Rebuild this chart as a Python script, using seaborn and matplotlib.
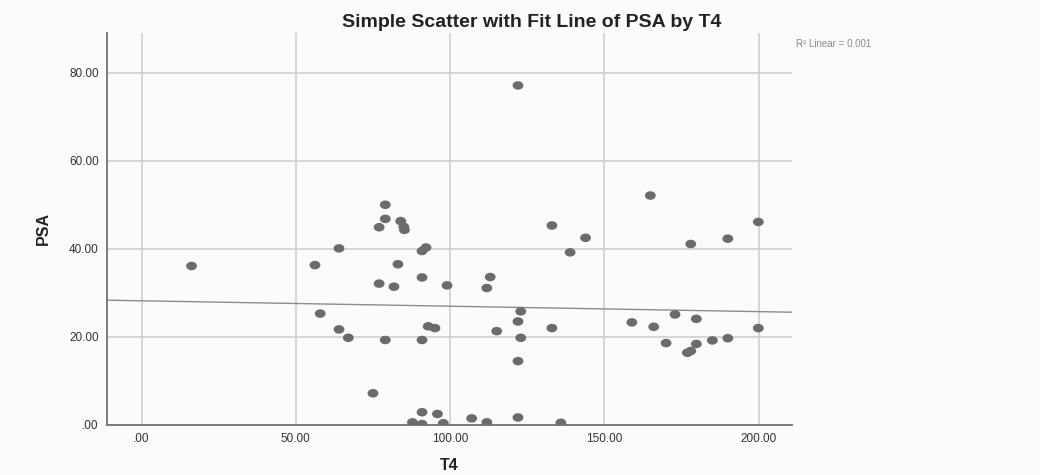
import numpy as np
import pandas as pd
import matplotlib
matplotlib.use("Agg")
import matplotlib.pyplot as plt
from matplotlib.markers import MarkerStyle
from matplotlib.transforms import Affine2D
import seaborn as sns

# Data
t4 = [16.2, 56.2, 57.9, 64.0, 64.0, 67.0, 75.0, 77.0, 77.0, 79.0,
      79.0, 79.0, 81.8, 83.1, 84.0, 85.0, 85.2, 87.8, 90.9, 92.2,
      90.9, 90.9, 90.9, 90.9, 92.9, 95.1, 95.9, 97.8, 99.0, 107.0,
      111.9, 113.0, 111.9, 115.1, 122.0, 122.9, 122.0, 122.9, 122.0, 122.0,
      133.0, 133.0, 135.9, 138.9, 143.9, 158.9, 164.9, 166.0, 170.0, 172.9,
      176.9, 178.0, 178.0, 179.8, 179.8, 185.0, 190.0, 190.0, 199.9, 199.9]
psa = [36.1, 36.3, 25.3, 40.1, 21.7, 19.8, 7.2, 44.9, 32.1, 50.0,
       46.8, 19.3, 31.4, 36.5, 46.3, 45.0, 44.3, 0.6, 39.5, 40.3,
       33.5, 19.3, 2.9, 0.2, 22.4, 22.0, 2.5, 0.4, 31.7, 1.5,
       31.1, 33.6, 0.6, 21.3, 77.1, 25.8, 23.5, 19.8, 14.5, 1.7,
       45.3, 22.0, 0.5, 39.2, 42.5, 23.3, 52.1, 22.3, 18.6, 25.1,
       16.4, 16.8, 41.1, 24.1, 18.4, 19.2, 42.3, 19.7, 46.1, 22.0]
x_ticks = [0, 50, 100, 150, 200]
x_labels = [".00", "50.00", "100.00", "150.00", "200.00"]
y_ticks = [0, 20, 40, 60, 80]
y_labels = [".00", "20.00", "40.00", "60.00", "80.00"]

df = pd.DataFrame({"T4": t4, "PSA": psa})

sns.set_style("white")
plt.rcParams["font.family"] = ["Liberation Sans", "DejaVu Sans"]

fig = plt.figure(figsize=(10.4, 4.75), dpi=100, facecolor="#fbfbfb")
ax = fig.add_axes([0.1029, 0.1053, 0.6586, 0.8252])
ax.set_facecolor("#fbfbfb")

ax.set_xlim(-11.2, 210.8)
ax.set_ylim(0, 89)

# grid
for v in x_ticks:
    ax.axvline(v, color="#cfcfcf", lw=1.2, zorder=0)
for v in y_ticks[1:]:
    ax.axhline(v, color="#cfcfcf", lw=1.2, zorder=0)

sns.regplot(data=df, x="T4", y="PSA", scatter=False, ci=None, truncate=False,
            line_kws={"color": "#8c8c8c", "lw": 1.0}, ax=ax)

# slightly wide dots, like the original
dot = MarkerStyle("o", transform=Affine2D().scale(1.2, 0.95))
sns.scatterplot(data=df, x="T4", y="PSA", s=42, color="#6b6b6b",
                edgecolor="none", marker=dot, ax=ax, zorder=3)

ax.set_xticks(x_ticks)
ax.set_xticklabels(x_labels)
ax.set_yticks(y_ticks)
ax.set_yticklabels(y_labels)
ax.tick_params(axis="both", length=0, labelsize=8.5, colors="#333333", pad=6)

for side in ["top", "right"]:
    ax.spines[side].set_visible(False)
for side in ["left", "bottom"]:
    ax.spines[side].set_color("#7a7a7a")
    ax.spines[side].set_linewidth(1.4)

ax.set_xlabel("T4", fontsize=11.5, fontweight="bold", color="#222222", labelpad=9)
ax.set_ylabel("PSA", fontsize=11.5, fontweight="bold", color="#222222", labelpad=13)

fig.text(0.511, 0.952, "Simple Scatter with Fit Line of PSA by T4",
         ha="center", va="center", fontsize=14, fontweight="bold", color="#222222")
fig.text(0.765, 0.907, "R\u00b2 Linear = 0.001", ha="left", va="center",
         fontsize=7, color="#8a8a8a")

fig.savefig("out.png", dpi=100, facecolor=fig.get_facecolor())
